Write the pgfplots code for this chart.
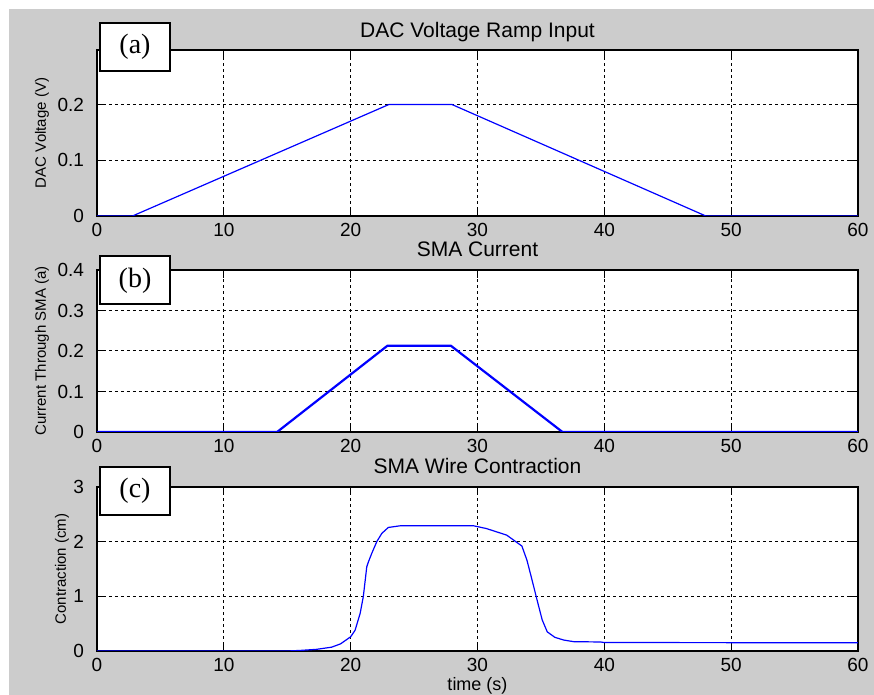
\documentclass[border=0pt]{standalone}
\usepackage{fontspec}
\setmainfont{Liberation Sans}
\newfontfamily\timesf{Liberation Serif}
\usepackage{pgfplots}
\pgfplotsset{compat=1.18}
\definecolor{bggray}{RGB}{204,204,204}
\definecolor{mblue}{RGB}{0,0,255}
\pgfplotsset{
  mat/.style={
    scale only axis, width=380.5pt, xmin=0, xmax=60, xtick={0,10,20,30,40,50,60},
    grid=major,
    major grid style={black, line width=0.5pt, dash pattern=on 1.6pt off 1.4pt},
    axis line style={black, line width=0.6pt},
    tick style={black, line width=0.5pt}, major tick length=4pt, tick align=inside,
    axis background/.style={fill=white},
    /pgf/number format/assume math mode=true,
    ticklabel style={font=\fontsize{9.5}{10}\selectfont},
    yticklabel style={xshift=-3pt},
    every axis title shift=0pt,
    title style={font=\fontsize{10.5}{12}\selectfont, at={(axis description cs:0.5,1)}, anchor=base, yshift=6.5pt},
    every axis y label/.style={at={(axis description cs:0,0.5)}, anchor=center, font=\fontsize{7.5}{9}\selectfont},
    every axis x label/.style={at={(axis description cs:0.5,0)}, anchor=base, yshift=-20pt, font=\fontsize{9}{10}\selectfont},
    no markers,
  }
}
\begin{document}
\begin{tikzpicture}
\useasboundingbox (0,0) rectangle (437pt,347.5pt);
\fill[white] (0,0) rectangle (437pt,347.5pt);
\fill[bggray] (4.5pt,0) rectangle (437pt,343pt);

\begin{axis}[mat, at={(48.5pt,239.5pt)}, anchor=south west, height=83pt,
  ymin=0, ymax=0.298, ytick={0,0.1,0.2},
  title={DAC Voltage Ramp Input}, title style={yshift=-0.5pt}, ylabel={DAC Voltage (V)},
  ylabel style={xshift=-27.5pt, rotate=90}]
\addplot[mblue, line width=0.6pt] coordinates {(0,0) (2.8,0) (23,0.2) (28,0.2) (48,0) (60,0)};
\end{axis}

\begin{axis}[mat, at={(48.5pt,131.5pt)}, anchor=south west, height=81pt,
  ymin=0, ymax=0.4, ytick={0,0.1,0.2,0.3,0.4},
  title={SMA Current}, ylabel={Current Through SMA (a)},
  ylabel style={xshift=-27.5pt, rotate=90}]
\addplot[mblue, line width=1.1pt] coordinates {(0,0) (14.2,0) (22.9,0.213) (27.9,0.213) (36.7,0) (60,0)};
\end{axis}

\begin{axis}[mat, at={(48.5pt,22pt)}, anchor=south west, height=82pt,
  ymin=0, ymax=3, ytick={0,1,2,3},
  title={SMA Wire Contraction}, ylabel={Contraction (cm)}, xlabel={time (s)},
  ylabel style={xshift=-17.5pt, rotate=90}]
\addplot[mblue, line width=0.6pt] coordinates {
(0,0) (15,0) (16,0.01) (17.3,0.03) (18.5,0.07) (19.2,0.13) (20,0.26) (20.35,0.38)
(20.75,0.69) (21.0,1.0) (21.27,1.54) (21.4,1.63) (21.67,1.79) (22.06,2.0) (22.45,2.15)
(22.97,2.26) (23.9,2.29) (29.7,2.29) (30.7,2.24) (32.3,2.12) (33.5,1.92) (33.9,1.66)
(34.3,1.30) (34.7,0.93) (35.1,0.57) (35.5,0.35) (36.1,0.25) (36.8,0.20) (37.6,0.17)
(39.7,0.165) (40,0.155) (60,0.15)};
\end{axis}

\tikzset{lab/.style={draw=black, line width=1pt, fill=white, minimum width=35pt, minimum height=24pt, inner sep=0pt, font=\timesf\fontsize{14}{15}\selectfont}}
\node[lab] at (67.5pt,324pt) {(a)};
\node[lab] at (67.5pt,207.25pt) {(b)};
\node[lab] at (67.5pt,102pt) {(c)};
\end{tikzpicture}
\end{document}
